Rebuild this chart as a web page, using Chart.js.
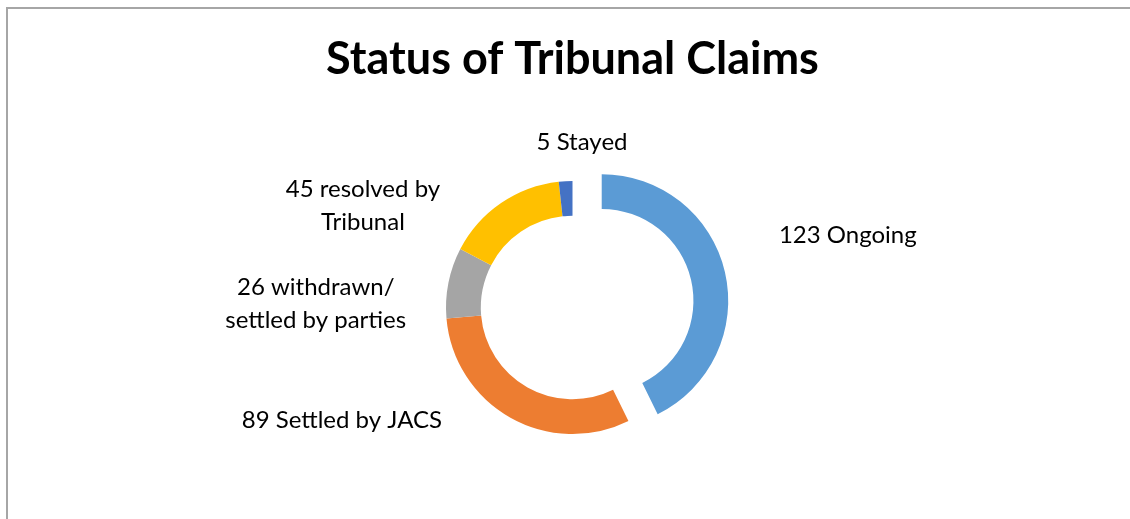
<!DOCTYPE html>
<html>
<head>
<meta charset="utf-8">
<script src="https://cdn.jsdelivr.net/npm/chart.js@4/dist/chart.umd.min.js"></script>
<style>
  html, body { margin: 0; padding: 0; width: 1130px; height: 519px; overflow: hidden; background: #fff; }
  #frame { position: absolute; left: 6px; top: 7px; width: 1200px; height: 600px; border: 2px solid #a6a6a6; }
  #wrap { position: absolute; left: 0; top: 0; width: 1130px; height: 519px; }
</style>
</head>
<body>
<div id="frame"></div>
<div id="wrap"><canvas id="claimsChart" width="1130" height="519"></canvas></div>
<script>
// Status of tribunal claims
const categories = [['Ongoing'], ['Settled by JACS'], ['withdrawn/', 'settled by parties'], ['resolved by', 'Tribunal'], ['Stayed']];
const claimCounts = [123, 89, 26, 45, 5];
const sliceColours = ['#5b9bd5', '#ed7d31', '#a5a5a5', '#ffc000', '#4472c4'];
// pixels each slice is pulled out (plain shift, same radius - like excel's explosion)
const explode = [30, 0, 0, 0, 0];

// where each data label sits: angle (deg from top, clockwise) and distance in outer radii
const labelAngle = [75.3, 243.9, 270.9, 295.8, 3.3];
const labelDist = [2.25, 2.03, 2.03, 1.84, 1.31];

const labelFont = '24px Lato';

// chart.js's own offset also grows the radius, so shift the arc centre instead
const explodeSlices = {
  id: 'explodeSlices',
  afterDatasetUpdate(chart, args) {
    args.meta.data.forEach((arc, i) => {
      const d = explode[i] || 0;
      if (!d) return;
      const mid = (arc.startAngle + arc.endAngle) / 2;
      arc.x += Math.cos(mid) * d;
      arc.y += Math.sin(mid) * d;
    });
  }
};

const outsideLabels = {
  id: 'outsideLabels',
  afterDraw(chart) {
    const ctx = chart.ctx;
    const meta = chart.getDatasetMeta(0);
    const area = chart.chartArea;
    const cx0 = (area.left + area.right) / 2;
    const cy0 = (area.top + area.bottom) / 2;
    ctx.save();
    ctx.font = labelFont;
    ctx.fillStyle = '#000';
    ctx.textAlign = 'center';
    ctx.textBaseline = 'middle';
    meta.data.forEach((arc, i) => {
      const a = labelAngle[i] * Math.PI / 180;
      const r = arc.outerRadius * labelDist[i];
      const cx = cx0 + Math.sin(a) * r;
      const cy = cy0 - Math.cos(a) * r;
      const lines = categories[i].slice();
      lines[0] = claimCounts[i] + ' ' + lines[0];
      const lh = 33;
      const y0 = cy - (lines.length - 1) * lh / 2;
      lines.forEach((t, k) => ctx.fillText(t, cx, y0 + k * lh));
    });
    ctx.restore();
  }
};

const ctx = document.getElementById('claimsChart').getContext('2d');
const chart = new Chart(ctx, {
  type: 'doughnut',
  data: {
    labels: categories,
    datasets: [{
      data: claimCounts,
      backgroundColor: sliceColours,
      borderWidth: 0,
      hoverOffset: 0
    }]
  },
  options: {
    responsive: false,
    animation: false,
    cutout: '72.5%',
    layout: { padding: { left: 300, right: 285, top: 0, bottom: 85 } },
    plugins: {
      legend: { display: false },
      tooltip: { enabled: false },
      title: {
        display: true,
        text: 'Status of Tribunal Claims',
        color: '#000',
        font: { family: 'Lato', size: 45, weight: 'bold', lineHeight: 1.2 },
        padding: { top: 32, bottom: 95 }
      }
    }
  },
  plugins: [explodeSlices, outsideLabels]
});
</script>
</body>
</html>
